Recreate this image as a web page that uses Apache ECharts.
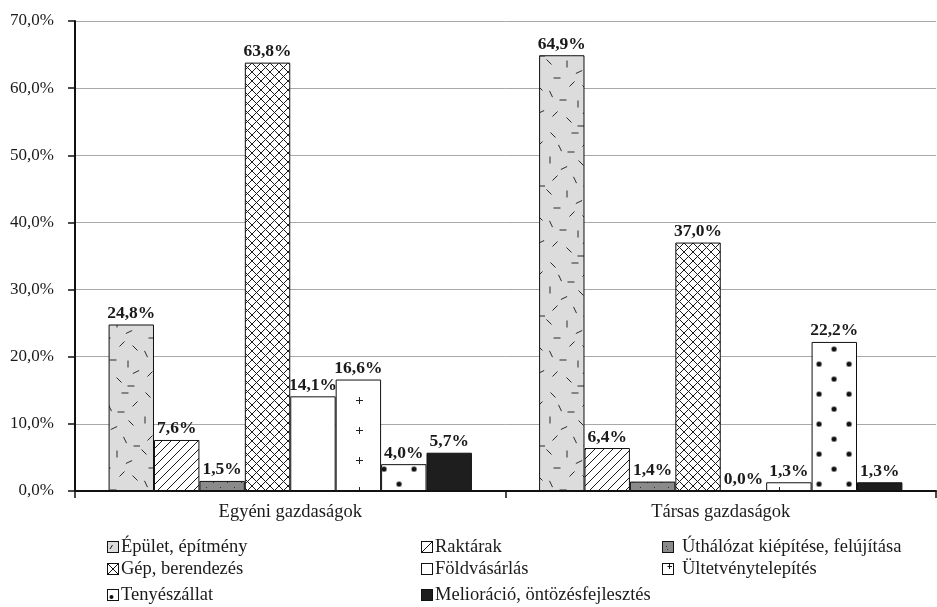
<!DOCTYPE html>
<html><head><meta charset="utf-8">
<script src="https://cdn.jsdelivr.net/npm/echarts@6/dist/echarts.min.js"></script>
<style>html,body{margin:0;padding:0;background:#fff}#c{width:937px;height:607px}</style>
</head><body><div id="c"></div>
<script>
// ---- data ----
const categories = ['Egyéni gazdaságok', 'Társas gazdaságok'];
const seriesNames = ['Épület, építmény', 'Raktárak', 'Úthálózat kiépítése, felújítása', 'Gép, berendezés', 'Földvásárlás', 'Ültetvénytelepítés', 'Tenyészállat', 'Melioráció, öntözésfejlesztés'];
const epulet = [24.8, 64.9];
const raktarak = [7.6, 6.4];
const uthalozat = [1.5, 1.4];
const gep = [63.8, 37.0];
const foldvasarlas = [14.1, 0.0];
const ultetveny = [16.6, 1.3];
const tenyeszallat = [4.0, 22.2];
const melioracio = [5.7, 1.3];
const yMin = 0, yMax = 70, yStep = 10;

// ---- patterns ----
function tile(w, h, bg, draw) {
  const c = document.createElement('canvas'); c.width = w; c.height = h;
  const g = c.getContext('2d'); g.fillStyle = bg; g.fillRect(0, 0, w, h);
  g.strokeStyle = '#1a1a1a'; g.fillStyle = '#1a1a1a'; g.lineWidth = 1;
  draw(g, w, h); return c;
}
function seg(g, x1, y1, x2, y2) { g.beginPath(); g.moveTo(x1, y1); g.lineTo(x2, y2); g.stroke(); }
// hand-placed dash marks: x, y, direction (0 horiz, 1 vert, 2 "\", 3 "/", 4 steep "\", 5 shallow "/")
const dashList = [
  [8,5,2],[30,3,0],[40,14,3],[15,18,4],[26,22,0],[5,30,1],[36,33,2],[19,38,5],[10,48,3],
  [30,50,4],[42,56,0],[4,62,2],[22,64,1],[34,72,5],[12,78,0],[27,84,3],[40,88,2],[6,94,4],
  [18,100,0],[33,104,1],[41,112,5],[10,114,3],[24,120,2],[36,126,0]
];
const dirs = [[7,0],[0,7],[5,5],[5,-5],[3,6.3],[6.3,-3]];
const pEpulet = tile(45, 130, '#dcdcdc', (g) => {
  g.strokeStyle = '#2a2a2a';
  dashList.forEach(([x, y, k]) => {
    const d = dirs[k];
    seg(g, x - d[0] / 2, y - d[1] / 2, x + d[0] / 2, y + d[1] / 2);
  });
});
const pRaktar = tile(9, 9, '#ffffff', (g) => { seg(g, -1, 10, 10, -1); seg(g, -1, 1, 1, -1); seg(g, 8, 10, 10, 8); });
const pGep = tile(9, 9, '#ffffff', (g) => { seg(g, -1, 10, 10, -1); seg(g, -1, -1, 10, 10); });
const pUt = tile(14, 10, '#8a8a8a', (g) => { g.fillStyle = '#333'; g.fillRect(3, 2, 1, 1); g.fillRect(10, 7, 1, 1); });
const pUltet = tile(60, 30, '#ffffff', (g) => { g.strokeStyle = '#222'; seg(g, 27, 15.5, 34, 15.5); seg(g, 30.5, 12, 30.5, 19); });
const pTeny = tile(30, 30, '#ffffff', (g) => {
  g.fillStyle = '#111';
  [[7.5, 7.5], [22.5, 22.5]].forEach(([x, y]) => { g.beginPath(); g.arc(x, y, 2.6, 0, Math.PI * 2); g.fill(); });
});
const fills = [
  { image: pEpulet, repeat: 'repeat', x: 5, y: 0 },
  { image: pRaktar, repeat: 'repeat' },
  { image: pUt, repeat: 'repeat' },
  { image: pGep, repeat: 'repeat' },
  '#ffffff',
  { image: pUltet, repeat: 'repeat', x: 29, y: 25 },
  { image: pTeny, repeat: 'repeat', x: 1.5, y: -3.5 },
  '#1e1e1e'
];

// legend icons
function icon(bg, draw) {
  const c = document.createElement('canvas'); c.width = 12; c.height = 12;
  const g = c.getContext('2d'); g.fillStyle = bg; g.fillRect(0, 0, 12, 12);
  g.strokeStyle = '#111'; g.fillStyle = '#111'; g.lineWidth = 1;
  if (draw) draw(g);
  g.strokeRect(0.5, 0.5, 11, 11);
  return 'image://' + c.toDataURL();
}
const icons = [
  icon('#dcdcdc', g => seg(g, 3, 8, 5.5, 4)),
  icon('#ffffff', g => seg(g, 1, 11, 11, 1)),
  icon('#8a8a8a', g => { g.fillStyle = '#333'; g.fillRect(4, 5, 1, 1); g.fillRect(5, 8, 1, 1); }),
  icon('#ffffff', g => { seg(g, 1, 1, 11, 11); seg(g, 1, 11, 11, 1); }),
  icon('#ffffff'),
  icon('#ffffff', g => { seg(g, 5.5, 3.5, 10, 3.5); seg(g, 7.5, 1, 7.5, 6); }),
  icon('#ffffff', g => { g.beginPath(); g.arc(4.5, 8, 2, 0, Math.PI * 2); g.fill(); }),
  icon('#1e1e1e')
];

const values = [epulet, raktarak, uthalozat, gep, foldvasarlas, ultetveny, tenyeszallat, melioracio];
const fmt = v => v.toFixed(1).replace('.', ',') + '%';
const FONT = '"Liberation Serif", "Times New Roman", serif';

const series = seriesNames.map((n, i) => ({
  name: n, type: 'bar', data: values[i],
  barGap: 0, barCategoryGap: '15.6%',
  itemStyle: { color: fills[i], borderColor: '#111', borderWidth: 1 },
  label: { show: true, position: 'top', distance: 2, formatter: p => fmt(p.value),
           fontFamily: FONT, fontSize: 17.5, fontWeight: 'bold', color: '#1a1a1a' },
  emphasis: { disabled: true }, animation: false
}));

// legend layout: [series index, icon left, row center y, text gap adjust]
const legendPlaces = [
  [0, 107, 547, -3], [1, 421, 547, -3], [2, 662, 547, 3],
  [3, 107, 569, -3], [4, 421, 569, -3], [5, 662, 569, 3],
  [6, 107, 595, -3], [7, 421, 595, -3]
];
const legends = legendPlaces.map(([i, left, cy, pad]) => ({
  orient: 'horizontal', left: left, top: cy - 10, padding: 0,
  itemWidth: 12, itemHeight: 12, selectedMode: false,
  textStyle: { fontFamily: FONT, fontSize: 18.5, lineHeight: 20, color: '#1a1a1a', padding: [0, 0, 0, pad] },
  data: [{ name: seriesNames[i], icon: icons[i] }]
}));

const chart = echarts.init(document.getElementById('c'), null, { renderer: 'canvas' });
chart.setOption({
  backgroundColor: '#fff',
  animation: false,
  grid: { left: 75, right: 1, top: 21, bottom: 116, containLabel: false },
  legend: legends,
  xAxis: {
    type: 'category', data: categories,
    axisLine: { lineStyle: { color: '#111', width: 2 } },
    axisTick: { show: true, length: 7, lineStyle: { color: '#111', width: 1.5 } },
    axisLabel: { fontFamily: FONT, fontSize: 18.5, color: '#1a1a1a', margin: 12 }
  },
  yAxis: {
    type: 'value', min: yMin, max: yMax, interval: yStep,
    axisLine: { show: true, lineStyle: { color: '#111', width: 2 } },
    axisTick: { show: true, length: 7, lineStyle: { color: '#111', width: 1.5 } },
    axisLabel: { fontFamily: FONT, fontSize: 17, color: '#1a1a1a', margin: 21, formatter: v => fmt(v) },
    splitLine: { lineStyle: { color: '#a8a8a8', width: 1 } }
  },
  series: series
});
</script>
</body></html>
